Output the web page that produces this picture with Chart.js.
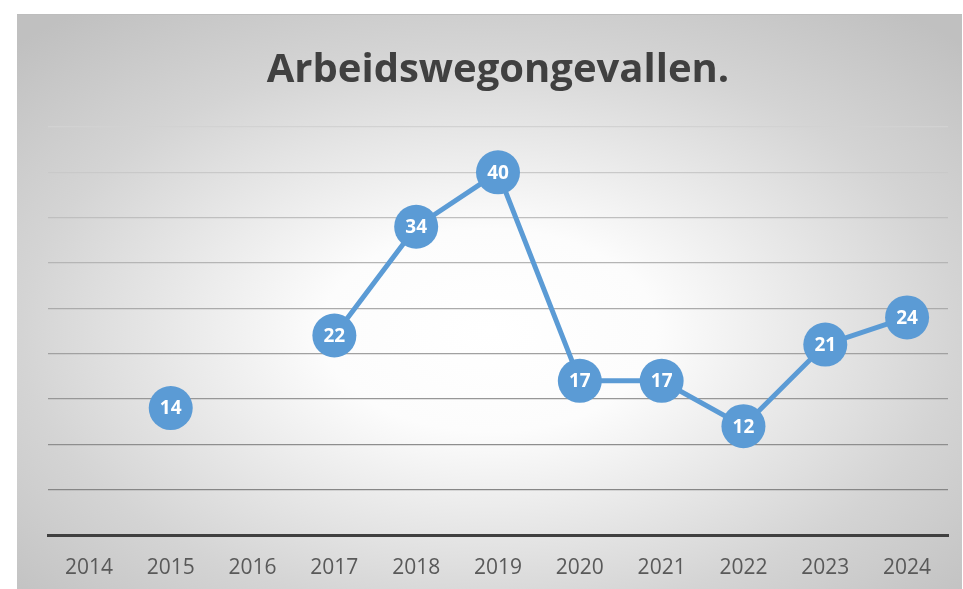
<!DOCTYPE html>
<html>
<head>
<meta charset="utf-8">
<script src="https://cdn.jsdelivr.net/npm/chart.js@4"></script>
<style>
  html, body { margin: 0; padding: 0; background: #fff; overflow: hidden; }
  #box {
    position: absolute; left: 17px; top: 14px; width: 945px; height: 575px;
    border-top: 1px solid #bdbdbd; box-sizing: border-box; overflow: hidden;
  }
  #chart { display: block; }
</style>
</head>
<body>
<div id="box"><canvas id="chart" width="953" height="574"></canvas></div>
<script>
  const years = ['2014', '2015', '2016', '2017', '2018', '2019', '2020', '2021', '2022', '2023', '2024'];
  const accidents = [null, 14, null, 22, 34, 40, 17, 17, 12, 21, 24];
  // gridline shade per step, top (45) to bottom (5)
  const gridShades = ['#d2d2d2', '#c9c9c9', '#bfbfbf', '#b5b5b5', '#ababab', '#a1a1a1', '#979797', '#8e8e8e', '#868686'];

  const bgPlugin = {
    id: 'bg',
    beforeDraw(chart) {
      const ctx = chart.ctx, w = 945, h = chart.height;
      ctx.save();
      ctx.translate(w / 2, h * 0.55);
      ctx.scale(1, h / w);
      const r = Math.sqrt(2) * w / 2;
      const g = ctx.createRadialGradient(0, 0, 0, 0, 0, r);
      g.addColorStop(0, '#ffffff');
      g.addColorStop(0.25, '#fcfcfc');
      g.addColorStop(0.7, '#d4d4d4');
      g.addColorStop(1, '#c0c0c0');
      ctx.fillStyle = g;
      ctx.fillRect(-w, -w, 2 * w, 2 * w);
      ctx.restore();
    }
  };

  const valueLabels = {
    id: 'valueLabels',
    afterDatasetsDraw(chart) {
      const ctx = chart.ctx;
      const meta = chart.getDatasetMeta(0);
      ctx.save();
      ctx.fillStyle = '#ffffff';
      ctx.font = 'bold 19px "Open Sans"';
      ctx.textAlign = 'center';
      ctx.textBaseline = 'middle';
      meta.data.forEach((pt, i) => {
        const v = accidents[i];
        if (v === null) return;
        ctx.fillText(String(v), pt.x, pt.y + 1);
      });
      ctx.restore();
    }
  };

  new Chart(document.getElementById('chart'), {
    type: 'line',
    data: {
      labels: years,
      datasets: [{
        data: accidents,
        borderColor: '#5b9bd5',
        backgroundColor: '#5b9bd5',
        borderWidth: 5,
        pointRadius: 22,
        pointBorderWidth: 0,
        pointBackgroundColor: '#5b9bd5',
        spanGaps: false,
        tension: 0
      }]
    },
    options: {
      responsive: false,
      animation: false,
      devicePixelRatio: 1,
      layout: { padding: { left: 31, right: 22, top: 22, bottom: 0 } },
      plugins: {
        legend: { display: false },
        tooltip: { enabled: false },
        title: {
          display: true,
          text: 'Arbeidswegongevallen.',
          color: '#404040',
          font: { family: '"Open Sans"', size: 40, weight: 'bold' },
          padding: { top: 10, bottom: 32 }
        }
      },
      scales: {
        x: {
          offset: true,
          grid: { display: false, drawTicks: false },
          border: { display: true, color: '#404040', width: 3 },
          ticks: { color: '#595959', font: { family: '"Open Sans"', size: 21 }, padding: 20, maxRotation: 0 },
          afterFit: (s) => { s.height = 54; }
        },
        y: {
          min: 0, max: 45,
          ticks: { display: false, stepSize: 5 },
          border: { display: false },
          grid: {
            drawTicks: false,
            lineWidth: 1.3,
            color: (c) => c.tick.value === 0 ? 'rgba(0,0,0,0)' : gridShades[9 - c.tick.value / 5]
          }
        }
      }
    },
    plugins: [bgPlugin, valueLabels]
  });
</script>
</body>
</html>
